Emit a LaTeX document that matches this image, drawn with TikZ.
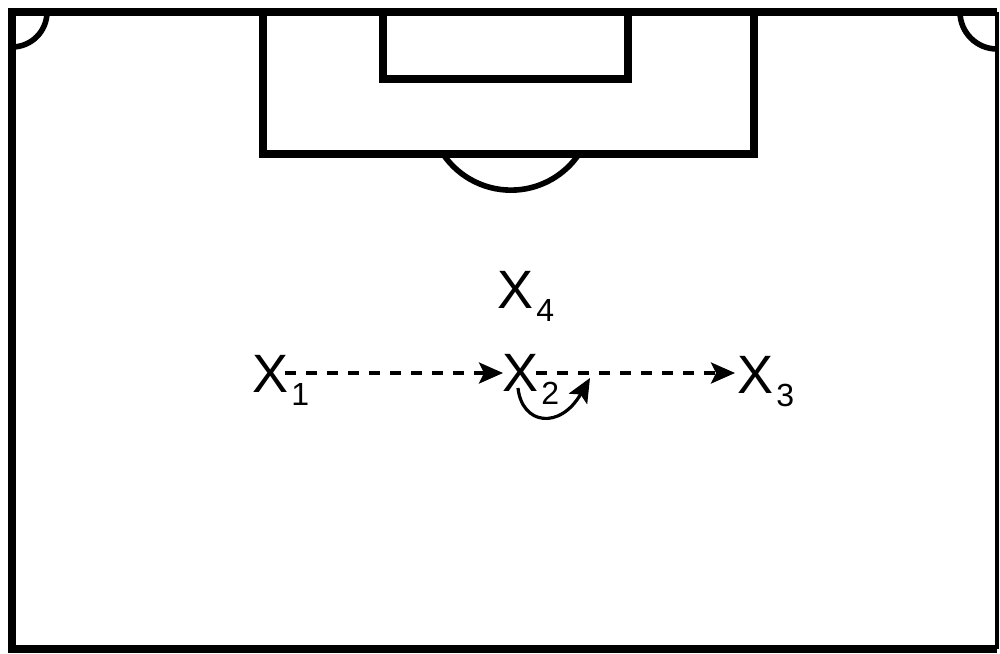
\documentclass[tikz,border=0pt]{standalone}
\usepackage{fontspec}
\setmainfont{Liberation Sans}
\usetikzlibrary{arrows.meta,calc}
\newcommand{\plabel}[1]{X\kern1.5pt\raisebox{-6.5pt}{\fontsize{16}{16}\selectfont #1}}
\begin{document}
\begin{tikzpicture}[x=0.5pt,y=-0.5pt,
  fieldline/.style={line width=3.8pt,line join=miter},
  thinfield/.style={line width=2.2pt},
  arcline/.style={line width=2.8pt},
  player/.style={inner sep=0pt,anchor=base west,font=\fontsize{27}{27}\selectfont},
  pass/.style={line width=1.6pt,dash pattern=on 5.5pt off 5pt,-{Stealth[length=12pt,width=10.5pt,inset=2.5pt]}},
  run/.style={line width=1.6pt,-{Stealth[length=12pt,width=10.5pt,inset=2.5pt]}}]
\useasboundingbox (0,0) rectangle (1000,653);
% field outline
\draw[fieldline] (997,12) -- (12,12) -- (12,649) -- (997,649);
\draw[thinfield] (997,12) -- (997,649);
% corner arcs
\draw[arcline] (47,12) arc[start angle=0,end angle=90,radius=35];
\draw[arcline] (997,49) arc[start angle=90,end angle=180,radius=37];
% penalty box
\draw[fieldline] (263,12) -- (263,154) -- (754,154) -- (754,12);
% goal box
\draw[fieldline] (383,12) -- (383,79) -- (628,79) -- (628,12);
% penalty arc
\draw[arcline] (443,154) arc[start angle=146,end angle=34,radius=82];
% players
\node[player] (x1) at (252,392) {\plabel{1}};
\node[player] (x2) at (502,391) {\plabel{2}};
\node[player] (x3) at (737,393) {\plabel{3}};
\node[player] (x4) at (497,308) {\plabel{4}};
% passes
\draw[pass] ($(x1.base west)+(33,-19)$) -- ($(x2.base west)+(1,-18)$);
\draw[pass] ($(x2.base west)+(34,-18)$) -- ($(x3.base west)+(-2,-20)$);
% run
\draw[run] ($(x2.base west)+(16,-3)$) .. controls ($(x2.base west)+(20,34)$) and ($(x2.base west)+(58,39)$) .. ($(x2.base west)+(88,-13)$);
\end{tikzpicture}
\end{document}
